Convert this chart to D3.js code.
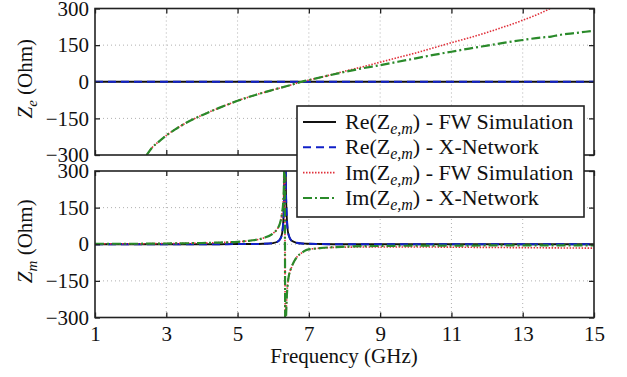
<!DOCTYPE html>
<html>
<head>
<meta charset="utf-8">
<script src="https://cdn.jsdelivr.net/npm/d3@7"></script>
<style>
  body { margin: 0; background: #fff; }
</style>
</head>
<body>
<div id="chart"></div>
<script>
var width = 627;
var height = 377;
var serif = "'Liberation Serif', 'DejaVu Serif', 'Noto Serif', 'Times New Roman', Times, serif";

// tick values
var xTicks = [1, 3, 5, 7, 9, 11, 13, 15];
var yTicks = [-300, -150, 0, 150, 300];

// Z_e panel (top)
var freqE = [2.45, 2.6, 2.8, 3, 3.25, 3.5, 3.75, 4, 4.5, 5, 5.5, 6, 6.5, 6.8, 7, 7.5, 8,
  8.5, 9, 9.5, 10, 10.5, 11, 11.5, 12, 12.5, 13, 13.5, 13.8, 14, 14.5, 15];
var imEFW = [-300, -270, -244, -220, -195, -173, -154, -137, -106, -78, -54, -33, -13, 0, 7, 24, 43,
  61, 80, 99, 118, 139, 160, 180, 202, 226, 252, 281, 302, null, null, null];
var imEXN = [-300, -270, -244, -220, -195, -173, -154, -137, -106, -78, -54, -33, -13, 0, 7, 24, 40,
  55, 68, 82, 96, 110, 123, 136, 148, 160, 171, 181, 185, 191, 200, 209];
var freqReE = [1, 15];
var reEFW = [0, 0];
var reEXN = [0, 0];

// Z_m panel (bottom)
var freqM = [1, 2, 3, 4, 4.5, 5, 5.35, 5.72, 6.0, 6.1, 6.19, 6.25, 6.28, 6.3, 6.32, 6.34, 6.36,
  6.42, 6.52, 6.66, 6.8, 6.94, 7.31, 8, 9, 10, 11, 12, 13, 14, 15];
var reMFW = [0, 0, 0, 0, 0, 1, 1, 2, 5, 9, 20, 45, 90, 160, 500, 500, 200,
  45, 14, 6, 3, 2, 1, 0, 0, 0, 0, 0, 0, 0, 0];
var reMXN = [0, 0, 0, 0, 0, 1, 1, 2, 5, 9, 20, 45, 90, 160, 500, 500, 200,
  45, 14, 6, 3, 2, 1, 0, 0, 0, 0, 0, 0, 0, 0];
var imMFW = [2, 2, 3, 5, 7, 10, 15, 25, 45, 60, 86, 130, 170, 240, 420, -420, -300,
  -146, -92, -53, -35, -23, -16, -12, -11, -11, -12, -13, -14, -15, -16];
var imMXN = [2, 2, 3, 5, 7, 10, 15, 25, 45, 60, 86, 130, 170, 240, 420, -420, -300,
  -146, -92, -53, -35, -23, -16, -10, -7, -6, -6, -5, -5, -5, -5];

var legendLabels = ["Re", "Re", "Im", "Im"];
var legendTails = [" - FW Simulation", " - X-Network", " - FW Simulation", " - X-Network"];

var styles = [
  { color: "#111111", dash: null, w: 1.8 },
  { color: "#1020c8", dash: "8,5", w: 2 },
  { color: "#e0303a", dash: "1.5,1.5", w: 1.6 },
  { color: "#2a8a2a", dash: "9,3,2,3", w: 2.2 }
];

var svg = d3.select("#chart").append("svg")
  .attr("width", width)
  .attr("height", height)
  .style("font-family", serif);

var x = d3.scaleLinear().domain([1, 15]).range([95, 594]);

var panels = [
  { y: d3.scaleLinear().domain([-300, 300]).range([155, 8.5]), sub: "e", id: "top",
    series: [[freqReE, reEFW], [freqReE, reEXN], [freqE, imEFW], [freqE, imEXN]], xLabels: false },
  { y: d3.scaleLinear().domain([-300, 300]).range([317.5, 171]), sub: "m", id: "bot",
    series: [[freqM, reMFW], [freqM, reMXN], [freqM, imMFW], [freqM, imMXN]], xLabels: true }
];

panels.forEach(function(p) {
  var y = p.y;
  var y0 = y.range()[1], y1 = y.range()[0];
  var g = svg.append("g");

  g.append("clipPath").attr("id", "clip-" + p.id)
    .append("rect").attr("x", x(1)).attr("y", y0).attr("width", x(15) - x(1)).attr("height", y1 - y0);

  // dotted grid
  g.selectAll(".gx").data(xTicks.slice(1, -1)).enter().append("line")
    .attr("x1", function(d) { return x(d); }).attr("x2", function(d) { return x(d); })
    .attr("y1", y0).attr("y2", y1)
    .attr("stroke", "#b0b0b0").attr("stroke-width", 1).attr("stroke-dasharray", "1,3");
  g.selectAll(".gy").data(yTicks.slice(1, -1)).enter().append("line")
    .attr("y1", function(d) { return y(d); }).attr("y2", function(d) { return y(d); })
    .attr("x1", x(1)).attr("x2", x(15))
    .attr("stroke", "#b0b0b0").attr("stroke-width", 1).attr("stroke-dasharray", "1,3");

  // curves
  var plot = g.append("g").attr("clip-path", "url(#clip-" + p.id + ")");
  p.series.forEach(function(s, i) {
    var pts = s[0].map(function(f, k) { return [f, s[1][k]]; });
    var line = d3.line()
      .defined(function(d) { return d[1] !== null; })
      .x(function(d) { return x(d[0]); })
      .y(function(d) { return y(d[1]); })
      .curve(d3.curveMonotoneX);
    plot.append("path").datum(pts)
      .attr("d", line)
      .attr("fill", "none")
      .attr("stroke", styles[i].color)
      .attr("stroke-width", styles[i].w)
      .attr("stroke-dasharray", styles[i].dash);
  });

  // axes
  var left = g.append("g").attr("transform", "translate(" + x(1) + ",0)")
    .call(d3.axisLeft(y).tickValues(yTicks).tickSizeInner(-5).tickSizeOuter(0).tickPadding(6));
  var right = g.append("g").attr("transform", "translate(" + x(15) + ",0)")
    .call(d3.axisRight(y).tickValues(yTicks).tickSizeInner(-5).tickSizeOuter(0).tickFormat(""));
  var top = g.append("g").attr("transform", "translate(0," + y0 + ")")
    .call(d3.axisTop(x).tickValues(xTicks).tickSizeInner(-5).tickSizeOuter(0).tickFormat(""));
  var bottom = g.append("g").attr("transform", "translate(0," + y1 + ")")
    .call(d3.axisBottom(x).tickValues(xTicks).tickSizeInner(-5).tickSizeOuter(0).tickPadding(9)
      .tickFormat(p.xLabels ? d3.format("d") : ""));
  [left, right, top, bottom].forEach(function(a) {
    a.attr("font-family", null).attr("font-size", null);
    a.select(".domain").remove();
    a.selectAll("line").attr("stroke", "#222").attr("stroke-width", 1.3);
    a.selectAll("text").attr("font-size", 21).attr("fill", "#111");
  });

  g.append("rect")
    .attr("x", x(1)).attr("y", y0).attr("width", x(15) - x(1)).attr("height", y1 - y0)
    .attr("fill", "none").attr("stroke", "#222").attr("stroke-width", 1.6);

  // y label
  var cy = (y0 + y1) / 2 - 3;
  var lab = g.append("text")
    .attr("transform", "translate(32," + cy + ") rotate(-90)")
    .attr("text-anchor", "middle")
    .attr("fill", "#111")
    .attr("font-size", 21);
  lab.append("tspan").attr("font-style", "italic").text("Z");
  lab.append("tspan").attr("font-style", "italic").attr("font-size", 15).attr("dy", 5).text(p.sub);
  lab.append("tspan").attr("dy", -5).text(" (Ohm)");
});

// x label
svg.append("text")
  .attr("x", 344).attr("y", 363)
  .attr("text-anchor", "middle")
  .attr("fill", "#111")
  .attr("font-size", 21)
  .text("Frequency (GHz)");

// legend
var lg = svg.append("g");
lg.append("rect")
  .attr("x", 297).attr("y", 106).attr("width", 287).attr("height", 111)
  .attr("fill", "#fff").attr("stroke", "#222").attr("stroke-width", 1.6);

var rowY = d3.scalePoint().domain(d3.range(4)).range([122, 198]);
legendLabels.forEach(function(name, i) {
  var yy = rowY(i);
  lg.append("line")
    .attr("x1", 303).attr("x2", 336).attr("y1", yy).attr("y2", yy)
    .attr("stroke", styles[i].color)
    .attr("stroke-width", styles[i].w)
    .attr("stroke-dasharray", styles[i].dash);
  var t = lg.append("text")
    .attr("x", 345).attr("y", yy + 7)
    .attr("fill", "#111")
    .attr("font-size", 22);
  t.append("tspan").text(name + "(Z");
  t.append("tspan").attr("font-style", "italic").attr("font-size", 16).attr("dy", 5).text("e,m");
  t.append("tspan").attr("dy", -5).text(")" + legendTails[i]);
});
</script>
</body>
</html>
